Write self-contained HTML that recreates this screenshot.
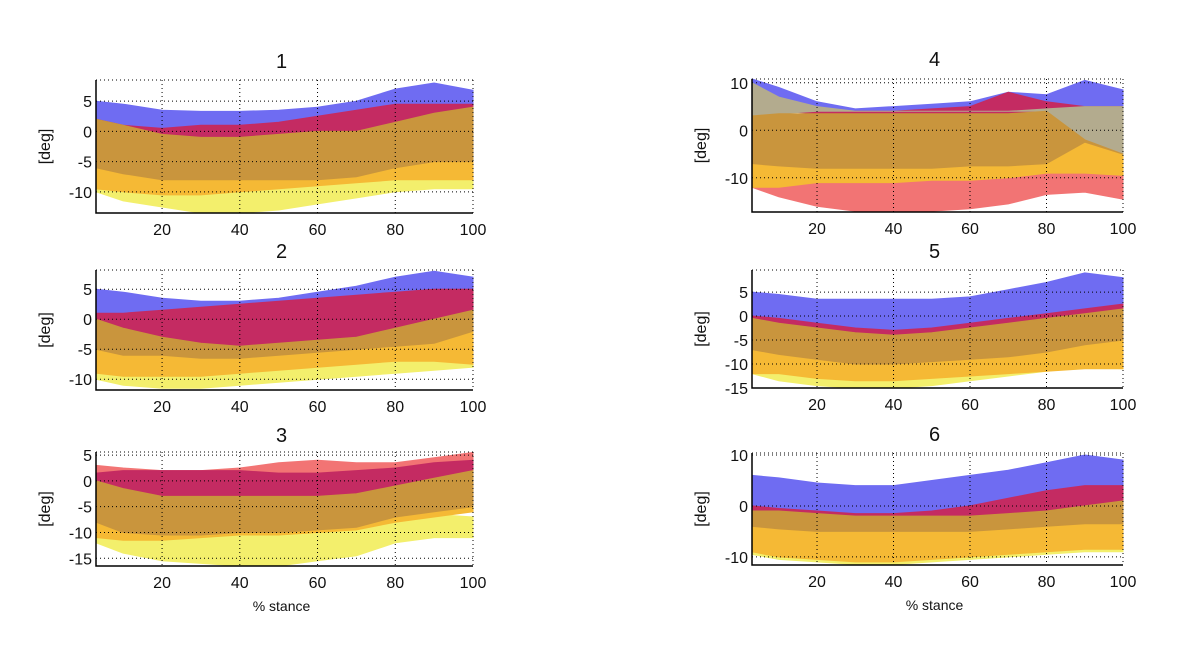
<!DOCTYPE html>
<html><head><meta charset="utf-8"><style>
body{margin:0;background:#fff;}
svg text{font-family:"Liberation Sans",Arial,sans-serif;fill:#111;}
</style></head><body>
<svg id="fig" width="1200" height="649" viewBox="0 0 1200 649"></svg>
<script>
const xs = [3,10,20,30,40,50,60,70,80,90,100];
const xTicks = [20,40,60,80,100];
const titles = ["1","2","3","4","5","6"];
const yTicks1 = [5,0,-5,-10];
const yTicks2 = [5,0,-5,-10];
const yTicks3 = [5,0,-5,-10,-15];
const yTicks4 = [10,0,-10];
const yTicks5 = [5,0,-5,-10,-15];
const yTicks6 = [10,0,-10];
const yRange1 = [-13.5,8.5], yRange2 = [-11.8,8.2], yRange3 = [-16.5,5.6];
const yRange4 = [-17.2,10.8], yRange5 = [-15,9.6], yRange6 = [-11.6,10.4];
const C = {blu:"#6f6cf2", crim:"#c42b62", yel:"#f3ef6c", ora:"#f5b935", brn:"#c9953d", sal:"#f27474", gray:"#b3ab8e"};
// panel 1 bands [upper, lower]
const p1yel = [[-9,-10,-10.5,-10.5,-10,-9,-8.5,-8,-7.5,-7,-8],[-10,-11.5,-12.5,-13.5,-13.5,-13,-12,-11,-10,-9.5,-9.5]];
const p1ora = [[-6,-7,-8,-8,-8,-8,-8,-7.5,-6,-5,-4.5],[-9.5,-10,-10.5,-10.5,-10,-9.5,-9,-8.5,-8,-8,-8]];
const p1blu = [[5,4.5,3.5,3.3,3.3,3.5,4,5,7,8,6.8],[2,1,0,0,0.5,1,2,3,4,4.5,4.5]];
const p1cri = [[2,1,0.5,1,1,1.5,2.5,3.5,4.5,4.5,4.5],[2,0.5,-0.5,-1,-1,-0.5,0,0,1.5,3,4]];
const p1brn = [[2,1,-0.5,-1,-1,-0.5,0,0,1.5,3,4],[-6,-7,-8,-8,-8,-8,-8,-7.5,-6,-5,-5]];
// panel 2
const p2yel = [[-8,-9,-9,-9,-8.5,-8,-7,-6,-5,-5,-6],[-10,-11,-11.5,-11.5,-11,-10.5,-10,-9.5,-9,-8.5,-8]];
const p2ora = [[-5,-6,-6,-6.5,-6.5,-6,-5.5,-5,-4.5,-4,-2],[-9,-9.5,-9.5,-9.5,-9,-8.5,-8,-7.5,-7,-7,-7.5]];
const p2blu = [[5,4.5,3.5,3,3,3.5,4.5,5.5,7,8,7],[1,0.5,0,0,0.5,1,2,3,4,5,5]];
const p2cri = [[1,1,1.5,2,2.5,3,3.5,4,4.5,5,5],[0,-1.5,-3,-4,-4.5,-4,-3.5,-3,-1.5,0,1.5]];
const p2brn = [[0,-1.5,-3,-4,-4.5,-4,-3.5,-3,-1.5,0,1.5],[-5,-6,-6,-6.5,-6.5,-6,-5.5,-5,-4.5,-4,-2]];
// panel 3
const p3yel = [[-10,-11,-11,-11,-10.5,-10,-10,-9,-7.5,-6.5,-7],[-12,-14,-15.5,-16,-16.5,-16.5,-15.5,-14.5,-12,-11,-11]];
const p3ora = [[-7,-9,-10.5,-10.5,-10,-10,-9.5,-9,-7,-6,-5],[-11,-11.5,-11.5,-11,-10.5,-10.5,-10,-9.5,-8,-7,-6]];
const p3sal = [[3,2.5,2,2,2.5,3.5,4,3.5,3.5,4.5,5.5],[1,0,-1,-1,-0.5,0,0,0,0,1.5,3]];
const p3cri = [[1.5,2,2,2,2,1.5,1.5,2,2.5,3.5,4],[0,-1.5,-3,-3,-3,-3,-3,-2.5,-1,0.5,2]];
const p3brn = [[0,-1.5,-3,-3,-3,-3,-3,-2.5,-1,0.5,2],[-8,-10,-10.5,-10.5,-10,-10,-9.5,-9,-7,-6,-5]];
// panel 4
const p4sal = [[-12,-12,-11,-11,-11,-10.5,-10.5,-10,-9,-9,-9.5],[-12,-14,-16,-17,-17.2,-17,-16.5,-15.5,-13.5,-13,-14.5]];
const p4ora = [[-7,-7.5,-8,-8,-8,-8,-7.5,-7.5,-7,-2.5,-5],[-12,-12,-11,-11,-11,-10.5,-10.5,-10,-9,-9,-9.5]];
const p4blu = [[11,9,6,4.5,5,5.5,6,8,7.5,10.5,8.5],[9,7,4.5,3.5,4,4.5,4,7,5,5,5]];
const p4cri = [[9,6,4.5,4,4,4.5,5,8,6,5,5],[4,4,3.5,3.5,3.5,3.5,3.5,3.5,4,4.5,5]];
const p4gry = [[10,7,5,4,4,4,4,4,4.5,5,5],[3,3.5,4,4,4,4,4,4,4,-2,-5]];
const p4brn = [[3,3.5,3.5,3.5,3.5,3.5,3.5,3.5,4,-2,-5],[-7,-7.5,-8,-8,-8,-8,-7.5,-7.5,-7,-2.5,-5]];
// panel 5
const p5yel = [[-10,-11,-12,-12.5,-12.5,-12,-11.5,-11,-10.5,-10,-10],[-12,-13.5,-14.5,-15,-15,-14.5,-13.5,-12.5,-11.5,-10.5,-11]];
const p5ora = [[-7,-8,-9,-10,-10,-9.5,-9,-8.5,-7.5,-6,-5],[-12,-12,-13,-13.5,-13.5,-13,-12.5,-12,-11.5,-11,-11]];
const p5blu = [[5,4.5,3.5,3.5,3.5,3.5,4,5.5,7,9,8],[-0.5,-1,-2,-2.5,-3,-2.5,-1.5,-0.5,0.5,1.5,2.5]];
const p5cri = [[0,-0.5,-1.5,-2.5,-3,-2.5,-1.5,-0.5,0.5,1.5,2.5],[-0.5,-1.5,-2.5,-3.5,-4,-3.5,-2.5,-1.5,-0.5,0.5,1.5]];
const p5brn = [[-0.5,-1.5,-2.5,-3.5,-4,-3.5,-2.5,-1.5,-0.5,0.5,1.5],[-7,-8,-9,-10,-10,-9.5,-9,-8.5,-7.5,-6,-5]];
// panel 6
const p6yel = [[-8,-9,-9.5,-10,-10,-9.5,-9,-8.5,-8,-7.5,-7.5],[-9.5,-10.5,-11,-11.5,-11.5,-11,-10.5,-10,-9.5,-9,-9]];
const p6ora = [[-4,-4.5,-5,-5,-5,-5,-5,-4.5,-4,-3.5,-3.5],[-9,-10,-10.5,-11,-11,-10.5,-10,-9.5,-9,-8.5,-8.5]];
const p6blu = [[6,5.5,4.5,4,4,5,6,7,8.5,10,9],[0,-0.5,-1,-1.5,-1.5,-1,0,1.5,3,4,4]];
const p6cri = [[0,-0.5,-1,-1.5,-1.5,-1,0,1.5,3,4,4],[-1,-1,-1.5,-2,-2,-2,-2,-1.5,-1,0,1]];
const p6brn = [[-1,-1,-1.5,-2,-2,-2,-2,-1.5,-1,0,1],[-4,-4.5,-5,-5,-5,-5,-5,-4.5,-4,-3.5,-3.5]];

const NS="http://www.w3.org/2000/svg";
const svg=document.getElementById('fig');
function mk(tag,attrs,parent){const e=document.createElementNS(NS,tag);for(const k in attrs)e.setAttribute(k,attrs[k]);(parent||svg).appendChild(e);return e;}
const panels=[
 {L:96,R:473,T:80,B:213,yr:yRange1,yt:yTicks1,bands:[[p1yel,C.yel],[p1ora,C.ora],[p1blu,C.blu],[p1cri,C.crim],[p1brn,C.brn]],ty:60,xl:false},
 {L:96,R:473,T:270,B:390,yr:yRange2,yt:yTicks2,bands:[[p2yel,C.yel],[p2ora,C.ora],[p2blu,C.blu],[p2cri,C.crim],[p2brn,C.brn]],ty:250,xl:false},
 {L:96,R:473,T:452,B:566,yr:yRange3,yt:yTicks3,bands:[[p3yel,C.yel],[p3ora,C.ora],[p3sal,C.sal],[p3cri,C.crim],[p3brn,C.brn]],ty:434,xl:true},
 {L:752,R:1123,T:79,B:212,yr:yRange4,yt:yTicks4,bands:[[p4sal,C.sal],[p4ora,C.ora],[p4blu,C.blu],[p4cri,C.crim],[p4gry,C.gray],[p4brn,C.brn]],ty:58,xl:false},
 {L:752,R:1123,T:270,B:388,yr:yRange5,yt:yTicks5,bands:[[p5yel,C.yel],[p5ora,C.ora],[p5blu,C.blu],[p5cri,C.crim],[p5brn,C.brn]],ty:250,xl:false},
 {L:752,R:1123,T:453,B:565,yr:yRange6,yt:yTicks6,bands:[[p6yel,C.yel],[p6ora,C.ora],[p6blu,C.blu],[p6cri,C.crim],[p6brn,C.brn]],ty:433,xl:true}
];
const bandNames={};bandNames[C.yel]='yellow-band';bandNames[C.ora]='orange-band';bandNames[C.blu]='blue-band';bandNames[C.crim]='crimson-band';bandNames[C.brn]='brown-band';bandNames[C.sal]='salmon-band';bandNames[C.gray]='gray-band';
panels.forEach((p,i)=>{
  const g=mk('g',{});
  
  
  const x0=3,x1=100;
  const X=v=>p.L+(v-x0)/(x1-x0)*(p.R-p.L);
  const Y=v=>p.B-(v-p.yr[0])/(p.yr[1]-p.yr[0])*(p.B-p.T);
  const clamp=v=>Math.max(p.T,Math.min(p.B,Y(v)));
  p.bands.forEach(([b,col])=>{
    let pts=xs.map((x,k)=>X(x).toFixed(1)+','+clamp(b[0][k]).toFixed(1));
    for(let k=xs.length-1;k>=0;k--)pts.push(X(xs[k]).toFixed(1)+','+clamp(b[1][k]).toFixed(1));
    const pg=mk('polygon',{points:pts.join(' '),fill:col,stroke:col,'stroke-width':1},g);
    
    
  });
  xTicks.forEach(t=>{
    const l=mk('line',{x1:X(t),x2:X(t),y1:p.T,y2:p.B,stroke:'#000','stroke-width':1,'stroke-dasharray':'1,3'},g);
    
    
    const tx=mk('text',{x:X(t),y:p.B+22,'font-size':16,'text-anchor':'middle'},g);
    tx.textContent=t;
    
    
  });
  p.yt.forEach(t=>{
    const l=mk('line',{x1:p.L,x2:p.R,y1:Y(t),y2:Y(t),stroke:'#000','stroke-width':1,'stroke-dasharray':'1,3'},g);
    
    
    const tx=mk('text',{x:p.L-4,y:Y(t)+6,'font-size':16,'text-anchor':'end'},g);
    tx.textContent=t;
    
    
  });
  const top=mk('line',{x1:p.L,x2:p.R,y1:p.T,y2:p.T,stroke:'#000','stroke-dasharray':'1,3'},g);
  
  
  const ax=mk('path',{d:`M${p.L},${p.T} V${p.B} H${p.R}`,fill:'none',stroke:'#000','stroke-width':1.5},g);
  
  
  const tt=mk('text',{x:(p.L+p.R)/2-3,y:p.ty+8,'font-size':20,'text-anchor':'middle'},g);
  tt.textContent=titles[i];
  
  
  const yl=mk('text',{x:0,y:0,'font-size':16,'text-anchor':'middle',transform:`translate(${p.L-46},${(p.T+p.B)/2}) rotate(-90)`},g);
  yl.textContent='[deg]';
  
  
  if(p.xl){
    const xl=mk('text',{x:(p.L+p.R)/2-3,y:p.B+45,'font-size':14,'text-anchor':'middle'},g);
    xl.textContent='% stance';
    
    
  }
});
</script>
</body></html>
